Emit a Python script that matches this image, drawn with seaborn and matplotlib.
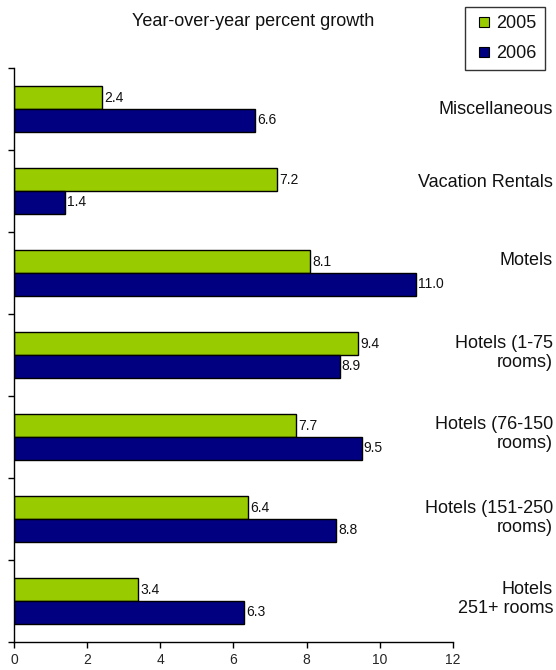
import matplotlib
matplotlib.use("Agg")
import matplotlib.pyplot as plt
from matplotlib.lines import Line2D
import seaborn as sns
import pandas as pd
import numpy as np

categories = ["Miscellaneous", "Vacation Rentals", "Motels", "Hotels (1-75\nrooms)",
              "Hotels (76-150\nrooms)", "Hotels (151-250\nrooms)", "Hotels\n251+ rooms"]
growth_2005 = [2.4, 7.2, 8.1, 9.4, 7.7, 6.4, 3.4]
growth_2006 = [6.6, 1.4, 11.0, 8.9, 9.5, 8.8, 6.3]
series = ["2005", "2006"]
x_ticks = [0, 2, 4, 6, 8, 10, 12]

label_offsets_pt = [0, 6, 9, 1.5, 2, 0.5, 1.5]
colors = {"2005": "#99CC00", "2006": "#000080"}

sns.set_theme(style="white")
plt.rcParams['font.family'] = ['Liberation Sans', 'DejaVu Sans']

df = pd.DataFrame({
    "category": categories * 2,
    "year": [series[0]] * len(categories) + [series[1]] * len(categories),
    "value": growth_2005 + growth_2006,
})

fig = plt.figure(figsize=(5.56, 6.70), dpi=100)
ax = fig.add_axes([14/556, 1-642/670, (453-14)/556, (642-68)/670])

sns.barplot(data=df, y="category", x="value", hue="year", order=categories,
            hue_order=series, palette=colors, orient="h", width=0.55,
            edgecolor="black", linewidth=1.0, saturation=1, ax=ax, legend=False)

for cont in ax.containers:
    ax.bar_label(cont, fmt="%.1f", padding=1.5, fontsize=10, color="#111111")

ax.set_xlim(0, 12)
ax.set_ylim(6.5, -0.5)
ax.set_xticks(x_ticks)
ax.set_xticklabels([str(t) for t in x_ticks], fontsize=10)
ax.set_yticks(np.arange(-0.5, 7.0, 1.0))
ax.set_yticklabels([])
ax.set_xlabel("")
ax.set_ylabel("")
ax.tick_params(axis="both", direction="out", length=4, width=1, color="black",
               left=True, bottom=True)
ax.tick_params(axis="x", pad=4)
for s in ["top", "right"]:
    ax.spines[s].set_visible(False)
for s in ["left", "bottom"]:
    ax.spines[s].set_color("black")
    ax.spines[s].set_linewidth(1)

# category labels on the right
trans = matplotlib.transforms.blended_transform_factory(fig.transFigure, ax.transData)
for i, (lab, off) in enumerate(zip(categories, label_offsets_pt)):
    ax.annotate(lab, xy=(553/556, i), xycoords=trans, xytext=(0, off),
                textcoords="offset points", ha="right", va="center",
                multialignment="right", fontsize=13, color="#111111",
                annotation_clip=False, linespacing=1.15)

fig.text(253/556, 1-22/670, "Year-over-year percent growth", ha="center",
         va="center", fontsize=13, color="#111111")

handles = [Line2D([], [], linestyle="none", marker="s", markersize=7.5,
                  markerfacecolor=colors[s], markeredgecolor="black",
                  markeredgewidth=0.8) for s in series]
leg = ax.legend(handles, series, loc="upper right", bbox_to_anchor=(545/556, 1-7/670),
                bbox_transform=fig.transFigure, frameon=True, fontsize=13,
                handlelength=1.2, handletextpad=0.1, borderpad=0.45,
                labelspacing=0.72, fancybox=False, borderaxespad=0)
leg.get_frame().set_edgecolor("black")
leg.get_frame().set_linewidth(1)
for t in leg.get_texts():
    t.set_color("#111111")

fig.savefig("out.png", dpi=100)
